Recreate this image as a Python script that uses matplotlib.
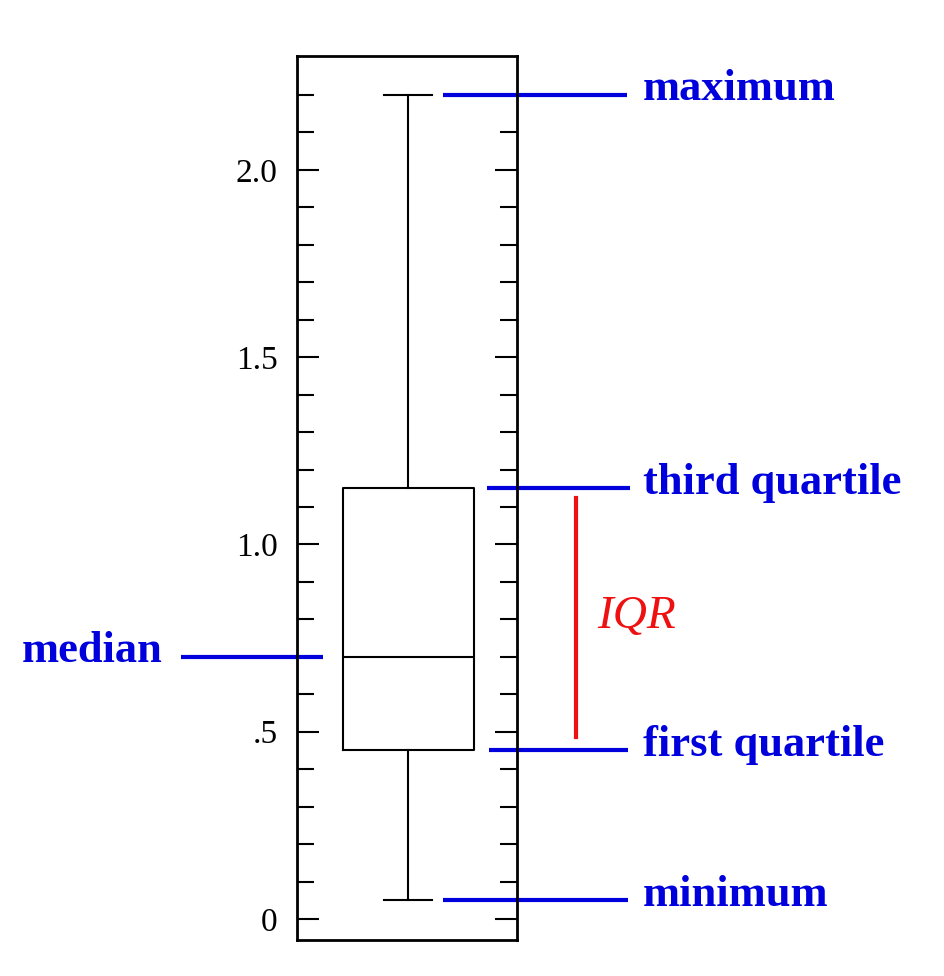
import matplotlib
matplotlib.use("Agg")
import matplotlib.pyplot as plt
from matplotlib.transforms import blended_transform_factory

# five-number summary
minimum = 0.05
first_quartile = 0.45
median = 0.70
third_quartile = 1.15
maximum = 2.20

tick_values = [0, 0.5, 1.0, 1.5, 2.0]
tick_labels = ["0", ".5", "1.0", "1.5", "2.0"]

blue = "#0000dd"
red = "#ee1111"

plt.rcParams['font.family'] = ['Liberation Serif', 'DejaVu Serif']

fig = plt.figure(figsize=(9.44, 9.76), dpi=100)
ax = fig.add_axes([0.3146, 0.0369, 0.2331, 0.9057])

stats = [{
    "whislo": minimum, "q1": first_quartile, "med": median,
    "q3": third_quartile, "whishi": maximum, "fliers": [],
}]
ax.bxp(stats, positions=[0.505], widths=0.595, showfliers=False,
       boxprops=dict(color="black", linewidth=1.5),
       whiskerprops=dict(color="black", linewidth=1.5),
       capprops=dict(color="black", linewidth=1.5),
       medianprops=dict(color="black", linewidth=1.5),
       capwidths=0.22)

ax.set_xlim(0, 1)
ax.set_ylim(-0.056, 2.304)
ax.set_xticks([])
ax.set_yticks(tick_values, tick_labels)
ax.set_yticks([v / 10 for v in range(0, 23)], minor=True)
ax.tick_params(axis="y", which="both", direction="in", left=True, right=True,
               width=1.5, labelsize=24, pad=14)
ax.tick_params(axis="y", which="major", length=16)
ax.tick_params(axis="y", which="minor", length=12)
for s in ax.spines.values():
    s.set_linewidth(2)

# blue pointer lines: x in figure fraction, y in data
tr = blended_transform_factory(fig.transFigure, ax.transData)
pointers = [
    (maximum, 0.469, 0.664, "maximum"),
    (third_quartile, 0.516, 0.667, "third quartile"),
    (first_quartile, 0.518, 0.665, "first quartile"),
    (minimum, 0.469, 0.665, "minimum"),
]
for val, x0, x1, txt in pointers:
    ax.plot([x0, x1], [val, val], color=blue, linewidth=3, transform=tr,
            clip_on=False, solid_capstyle="butt")
    ax.annotate(txt, xy=(0.681, val), xycoords=("figure fraction", "data"),
                xytext=(0, 4), textcoords="offset points",
                ha="left", va="center", fontsize=32, fontweight="bold",
                color=blue)

ax.plot([0.192, 0.342], [median, median], color=blue, linewidth=3,
        transform=tr, clip_on=False, solid_capstyle="butt")
ax.annotate("median", xy=(0.172, median), xycoords=("figure fraction", "data"),
            xytext=(0, 4), textcoords="offset points",
            ha="right", va="center", fontsize=32, fontweight="bold", color=blue)

# IQR bracket
ax.plot([0.610, 0.610], [first_quartile + 0.035, third_quartile - 0.025],
        color=red, linewidth=3, transform=tr, clip_on=False)
ax.annotate("IQR", xy=(0.633, (first_quartile + third_quartile) / 2),
            xycoords=("figure fraction", "data"), xytext=(0, 2),
            textcoords="offset points", ha="left", va="center",
            fontsize=34, style="italic", color=red)

fig.savefig("out.png", dpi=100)
